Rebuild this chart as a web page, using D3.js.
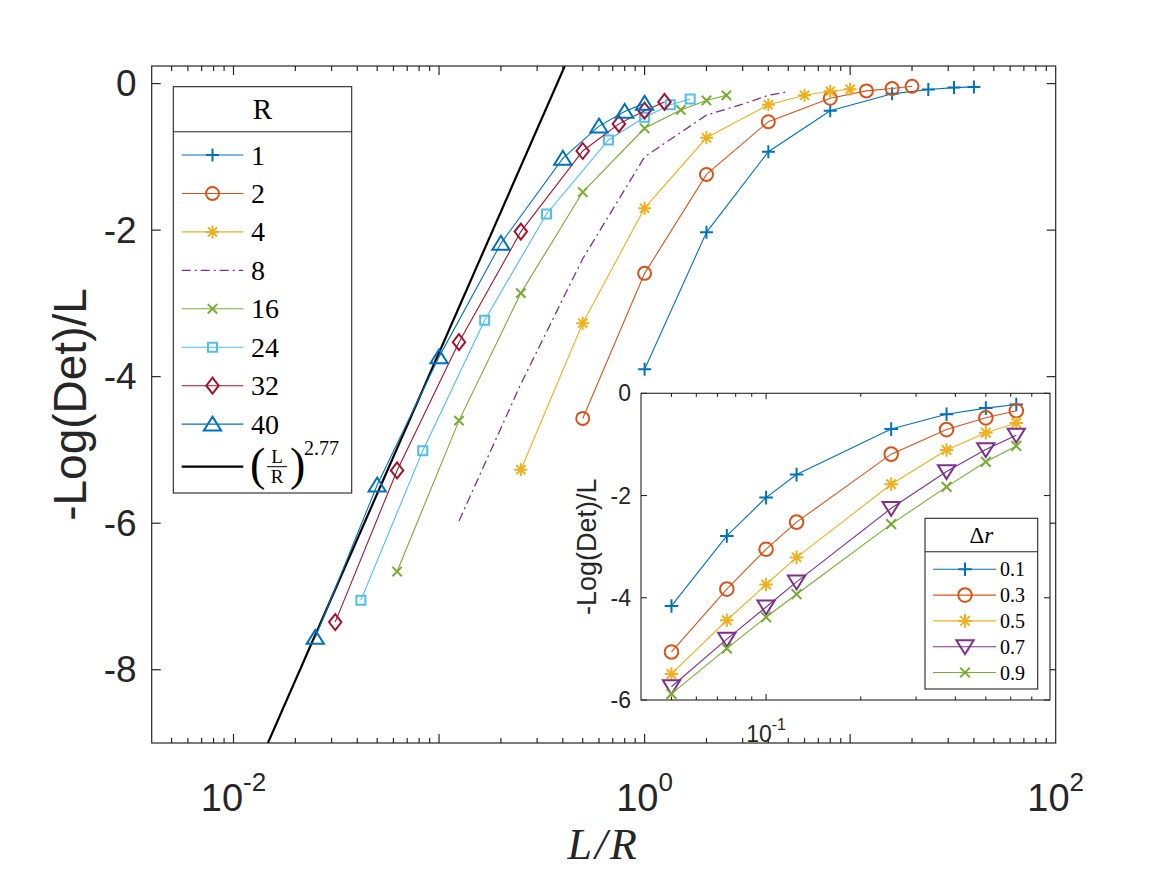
<!DOCTYPE html>
<html>
<head>
<meta charset="utf-8">
<script src="https://cdn.jsdelivr.net/npm/d3@7"></script>
<style>
  body { margin: 0; background: #fff; }
  svg { display: block; }
</style>
</head>
<body>
<div id="chart"></div>
<script>
// system sizes L and ranges R, x axis is L/R
var Lvals = [1, 2, 4, 8, 16, 24, 32, 40];
var Rvals = [1, 2, 4, 8, 16, 24, 32, 40];

// -Log(Det)/L, one array per R (index = L)
var detR1  = [-3.90, -2.03, -0.93, -0.37, -0.14, -0.08, -0.055, -0.045];
var detR2  = [-4.57, -2.59, -1.24, -0.52, -0.20, -0.10, -0.068, -0.037];
var detR4  = [-5.27, -3.27, -1.70, -0.74, -0.29, -0.16, -0.105, -0.078];
var detR8  = [-5.97, -4.10, -2.39, -1.00, -0.43, -0.28, -0.16, -0.11];
var detR16 = [-6.66, -4.60, -2.86, -1.48, -0.61, -0.36, -0.23, -0.16];
var detR24 = [-7.05, -5.01, -3.23, -1.78, -0.77, -0.46, -0.29, -0.21];
var detR32 = [-7.35, -5.28, -3.53, -2.02, -0.92, -0.55, -0.37, -0.25];
var detR40 = [-7.56, -5.48, -3.73, -2.18, -1.02, -0.58, -0.38, -0.27];

// (L/R)^2.77 guide line, two ends
var fitX = [0.0147, 0.409];
var fitY = [-9.0, 0.24];

// inset: -Log(Det)/L against L/R for several Delta r
var insetX = [0.05, 0.075, 0.1, 0.125, 0.25, 0.375, 0.5, 0.625];
var drLabels = ["0.1", "0.3", "0.5", "0.7", "0.9"];
var dr01 = [-4.16, -2.79, -2.04, -1.59, -0.70, -0.41, -0.29, -0.22];
var dr03 = [-5.06, -3.83, -3.05, -2.52, -1.19, -0.71, -0.48, -0.34];
var dr05 = [-5.49, -4.44, -3.74, -3.21, -1.78, -1.11, -0.77, -0.58];
var dr07 = [-5.74, -4.81, -4.18, -3.69, -2.25, -1.53, -1.10, -0.82];
var dr09 = [-5.88, -4.99, -4.38, -3.93, -2.56, -1.83, -1.34, -1.03];

var mainSeries = [detR1, detR2, detR4, detR8, detR16, detR24, detR32, detR40];
var insetSeries = [dr01, dr03, dr05, dr07, dr09];

// styles (matlab default order)
var mainColor  = ["#0072BD", "#D95319", "#EDB120", "#7E2F8E", "#77AC30", "#4DBEEE", "#A2142F", "#0072BD"];
var mainMarker = ["plus", "circle", "star", null, "x", "square", "diamond", "triUp"];
var mainSize   = [6.5, 6.5, 6.5, 0, 6.5, 7.5, 8, 7.5];
var insetColor  = ["#0072BD", "#D95319", "#EDB120", "#7E2F8E", "#77AC30"];
var insetMarker = ["plus", "circle", "star", "triDown", "x"];

var W = 1167, H = 875;
var axisCol = "#262626";
var sans = "'Liberation Sans', Arial, sans-serif";
var serif = "'Liberation Serif', 'Times New Roman', serif";

var svg = d3.select("#chart").append("svg")
    .attr("width", W)
    .attr("height", H)
    .style("background", "#fff");

function markerPath(type, s) {
  var a, b;
  switch (type) {
    case "plus": return "M" + (-s) + ",0H" + s + "M0," + (-s) + "V" + s;
    case "x": a = s * 0.72; return "M" + (-a) + "," + (-a) + "L" + a + "," + a + "M" + (-a) + "," + a + "L" + a + "," + (-a);
    case "star": b = s * 0.7; return "M" + (-s) + ",0H" + s + "M0," + (-s) + "V" + s +
        "M" + (-b) + "," + (-b) + "L" + b + "," + b + "M" + (-b) + "," + b + "L" + b + "," + (-b);
    case "circle": return "M" + s + ",0A" + s + "," + s + " 0 1,1 " + (-s) + ",0A" + s + "," + s + " 0 1,1 " + s + ",0Z";
    case "square": a = s * 0.6; return "M" + (-a) + "," + (-a) + "H" + a + "V" + a + "H" + (-a) + "Z";
    case "diamond": a = s * 0.78; return "M0," + (-s) + "L" + a + ",0L0," + s + "L" + (-a) + ",0Z";
    case "triUp": return "M0," + (-s) + "L" + (s * 1.15) + "," + (s * 0.85) + "L" + (-s * 1.15) + "," + (s * 0.85) + "Z";
    case "triDown": return "M0," + s + "L" + (s * 1.15) + "," + (-s * 0.85) + "L" + (-s * 1.15) + "," + (-s * 0.85) + "Z";
  }
  return "";
}

function drawMarker(g, type, cx, cy, color, s) {
  g.append("path")
    .attr("d", markerPath(type, s))
    .attr("transform", "translate(" + cx + "," + cy + ")")
    .attr("fill", "none")
    .attr("stroke", color)
    .attr("stroke-width", 2);
}

// ---------- main axes ----------
var mL = 151.7, mR = 1055.7, mT = 66, mB = 743;
var x = d3.scaleLog().domain([0.004, 100]).range([mL, mR]);
var y = d3.scaleLinear().domain([-9, 0.24]).range([mB, mT]);

svg.append("clipPath").attr("id", "clipMain")
  .append("rect").attr("x", mL).attr("y", mT).attr("width", mR - mL).attr("height", mB - mT);

var plot = svg.append("g").attr("clip-path", "url(#clipMain)");

// guide line
plot.append("line")
  .attr("x1", x(fitX[0])).attr("y1", y(fitY[0]))
  .attr("x2", x(fitX[1])).attr("y2", y(fitY[1]))
  .attr("stroke", "#000").attr("stroke-width", 2.2);

var line = d3.line().x(function(d) { return x(d[0]); }).y(function(d) { return y(d[1]); });

mainSeries.forEach(function(vals, i) {
  var R = Rvals[i];
  var pts = vals.map(function(v, j) { return [Lvals[j] / R, v]; });
  plot.append("path")
    .attr("d", line(pts))
    .attr("fill", "none")
    .attr("stroke", mainColor[i])
    .attr("stroke-width", mainMarker[i] ? 1.1 : 1.3)
    .attr("stroke-dasharray", mainMarker[i] ? null : "9,4,2,4");
  if (mainMarker[i]) {
    pts.forEach(function(p) {
      drawMarker(plot, mainMarker[i], x(p[0]), y(p[1]), mainColor[i], mainSize[i]);
    });
  }
});

// box + ticks
svg.append("rect")
  .attr("x", mL).attr("y", mT).attr("width", mR - mL).attr("height", mB - mT)
  .attr("fill", "none").attr("stroke", axisCol).attr("stroke-width", 1.2);

var yTicks = y.ticks(5);
yTicks.forEach(function(t) {
  svg.append("line").attr("x1", mL).attr("x2", mL + 9).attr("y1", y(t)).attr("y2", y(t))
    .attr("stroke", axisCol).attr("stroke-width", 1.2);
  svg.append("line").attr("x1", mR).attr("x2", mR - 9).attr("y1", y(t)).attr("y2", y(t))
    .attr("stroke", axisCol).attr("stroke-width", 1.2);
  svg.append("text")
    .attr("x", mL - 15).attr("y", y(t))
    .attr("text-anchor", "end").attr("dominant-baseline", "central")
    .style("font-family", sans).style("font-size", "37px").style("fill", axisCol)
    .text(d3.format("d")(t).replace("−", "-"));
});

x.ticks().forEach(function(t) {
  var lg = Math.log10(t);
  var major = Math.abs(lg - Math.round(lg)) < 1e-6;
  var len = major ? 9 : 5;
  if (x(t) <= mL + 0.5 || x(t) >= mR - 0.5) return;
  svg.append("line").attr("x1", x(t)).attr("x2", x(t)).attr("y1", mB).attr("y2", mB - len)
    .attr("stroke", axisCol).attr("stroke-width", 1.2);
  svg.append("line").attr("x1", x(t)).attr("x2", x(t)).attr("y1", mT).attr("y2", mT + len)
    .attr("stroke", axisCol).attr("stroke-width", 1.2);
});

// x tick labels 10^n
[0.01, 1, 100].forEach(function(t) {
  var txt = svg.append("text")
    .attr("x", x(t)).attr("y", 811)
    .attr("text-anchor", "middle")
    .style("font-family", sans).style("font-size", "38px").style("fill", axisCol);
  txt.append("tspan").text("10");
  txt.append("tspan").attr("dy", -20).style("font-size", "26px").text(String(Math.round(Math.log10(t))));
});

svg.append("text")
  .attr("transform", "translate(70," + ((mT + mB) / 2) + ") rotate(-90)")
  .attr("text-anchor", "middle").attr("dominant-baseline", "central")
  .style("font-family", sans).style("font-size", "46px").style("fill", axisCol)
  .text("-Log(Det)/L");

svg.append("text")
  .attr("x", (mL + mR) / 2).attr("y", 859)
  .attr("text-anchor", "middle")
  .style("font-family", serif).style("font-style", "italic").style("font-size", "44px")
  .style("letter-spacing", "3px").style("fill", axisCol)
  .text("L/R");

// ---------- main legend ----------
var lg = svg.append("g");
var lgL = 173.3, lgT = 86.7, lgW = 178.4, lgH = 406.3;
lg.append("rect").attr("x", lgL).attr("y", lgT).attr("width", lgW).attr("height", lgH)
  .attr("fill", "#fff").attr("stroke", axisCol).attr("stroke-width", 1.1);
lg.append("line").attr("x1", lgL).attr("x2", lgL + lgW).attr("y1", 131.7).attr("y2", 131.7)
  .attr("stroke", axisCol).attr("stroke-width", 1.1);
lg.append("text").attr("x", lgL + lgW / 2).attr("y", 119).attr("text-anchor", "middle")
  .style("font-family", serif).style("font-size", "29px").style("fill", "#000").text("R");

Rvals.forEach(function(R, i) {
  var ey = 155 + i * 38.45;
  lg.append("line").attr("x1", 181.7).attr("x2", 243.3).attr("y1", ey).attr("y2", ey)
    .attr("stroke", mainColor[i])
    .attr("stroke-width", mainMarker[i] ? 1.1 : 1.3)
    .attr("stroke-dasharray", mainMarker[i] ? null : "9,4,2,4");
  if (mainMarker[i]) drawMarker(lg, mainMarker[i], 212.5, ey, mainColor[i], mainSize[i]);
  lg.append("text").attr("x", 251).attr("y", ey + 9.5)
    .style("font-family", serif).style("font-size", "28px").style("fill", "#000").text(R);
});

// guide line entry: (L/R)^2.77
var fy = 466.7;
lg.append("line").attr("x1", 181.7).attr("x2", 243.3).attr("y1", fy).attr("y2", fy)
  .attr("stroke", "#000").attr("stroke-width", 2.2);
lg.append("text").attr("x", 250).attr("y", fy + 13)
  .style("font-family", serif).style("font-size", "46px").style("font-weight", "300").style("fill", "#000").text("(");
lg.append("text").attr("x", 277).attr("y", fy - 4).attr("text-anchor", "middle")
  .style("font-family", serif).style("font-size", "19px").style("fill", "#000").text("L");
lg.append("line").attr("x1", 267).attr("x2", 287).attr("y1", fy).attr("y2", fy)
  .attr("stroke", "#000").attr("stroke-width", 1);
lg.append("text").attr("x", 277).attr("y", fy + 16).attr("text-anchor", "middle")
  .style("font-family", serif).style("font-size", "19px").style("fill", "#000").text("R");
lg.append("text").attr("x", 290).attr("y", fy + 13)
  .style("font-family", serif).style("font-size", "46px").style("font-weight", "300").style("fill", "#000").text(")");
lg.append("text").attr("x", 304).attr("y", fy - 12)
  .style("font-family", serif).style("font-size", "20px").style("fill", "#000").text("2.77");

// ---------- inset ----------
var iL = 641, iR = 1050, iT = 393.3, iB = 700;
var xi = d3.scaleLog().domain([0.04, 0.8]).range([iL, iR]);
var yi = d3.scaleLinear().domain([-6, 0]).range([iB, iT]);

svg.append("rect").attr("x", iL).attr("y", iT).attr("width", iR - iL).attr("height", iB - iT)
  .attr("fill", "#fff");

var lineI = d3.line().x(function(d) { return xi(d[0]); }).y(function(d) { return yi(d[1]); });
var inset = svg.append("g");
insetSeries.forEach(function(vals, i) {
  var pts = vals.map(function(v, j) { return [insetX[j], v]; });
  inset.append("path").attr("d", lineI(pts)).attr("fill", "none")
    .attr("stroke", insetColor[i]).attr("stroke-width", 1.1);
  pts.forEach(function(p) {
    drawMarker(inset, insetMarker[i], xi(p[0]), yi(p[1]), insetColor[i], insetMarker[i] == "triDown" ? 7.5 : 6.8);
  });
});

svg.append("rect").attr("x", iL).attr("y", iT).attr("width", iR - iL).attr("height", iB - iT)
  .attr("fill", "none").attr("stroke", axisCol).attr("stroke-width", 1.1);

yi.ticks(4).forEach(function(t) {
  svg.append("line").attr("x1", iL).attr("x2", iL + 6).attr("y1", yi(t)).attr("y2", yi(t))
    .attr("stroke", axisCol).attr("stroke-width", 1.1);
  svg.append("line").attr("x1", iR).attr("x2", iR - 6).attr("y1", yi(t)).attr("y2", yi(t))
    .attr("stroke", axisCol).attr("stroke-width", 1.1);
  svg.append("text").attr("x", iL - 10).attr("y", yi(t))
    .attr("text-anchor", "end").attr("dominant-baseline", "central")
    .style("font-family", sans).style("font-size", "23px").style("fill", axisCol)
    .text(d3.format("d")(t).replace("−", "-"));
});

xi.ticks().forEach(function(t) {
  var lgt = Math.log10(t);
  var major = Math.abs(lgt - Math.round(lgt)) < 1e-6;
  var len = major ? 6 : 3.5;
  if (xi(t) <= iL + 0.5 || xi(t) >= iR - 0.5) return;
  svg.append("line").attr("x1", xi(t)).attr("x2", xi(t)).attr("y1", iB).attr("y2", iB - len)
    .attr("stroke", axisCol).attr("stroke-width", 1.1);
  svg.append("line").attr("x1", xi(t)).attr("x2", xi(t)).attr("y1", iT).attr("y2", iT + len)
    .attr("stroke", axisCol).attr("stroke-width", 1.1);
});

var it = svg.append("text").attr("x", xi(0.1)).attr("y", 742).attr("text-anchor", "middle")
  .style("font-family", sans).style("font-size", "23px").style("fill", axisCol);
it.append("tspan").text("10");
it.append("tspan").attr("dy", -12).style("font-size", "16px").text("-1");

svg.append("text")
  .attr("transform", "translate(587," + ((iT + iB) / 2) + ") rotate(-90)")
  .attr("text-anchor", "middle").attr("dominant-baseline", "central")
  .style("font-family", sans).style("font-size", "27px").style("fill", axisCol)
  .text("-Log(Det)/L");

// inset legend
var il = svg.append("g");
var ilL = 925, ilT = 518.3, ilW = 112.7, ilH = 170.7;
il.append("rect").attr("x", ilL).attr("y", ilT).attr("width", ilW).attr("height", ilH)
  .attr("fill", "#fff").attr("stroke", axisCol).attr("stroke-width", 1.1);
il.append("line").attr("x1", ilL).attr("x2", ilL + ilW).attr("y1", 551.7).attr("y2", 551.7)
  .attr("stroke", axisCol).attr("stroke-width", 1.1);
var ttl = il.append("text").attr("x", ilL + ilW / 2).attr("y", 543).attr("text-anchor", "middle")
  .style("font-family", serif).style("font-size", "23px").style("fill", "#000");
ttl.append("tspan").text("Δ");
ttl.append("tspan").style("font-style", "italic").text("r");

drLabels.forEach(function(lab, i) {
  var ey = 569.3 + i * 25.8;
  il.append("line").attr("x1", 933).attr("x2", 996).attr("y1", ey).attr("y2", ey)
    .attr("stroke", insetColor[i]).attr("stroke-width", 1.1);
  drawMarker(il, insetMarker[i], 965, ey, insetColor[i], insetMarker[i] == "triDown" ? 7.5 : 6.8);
  il.append("text").attr("x", 1000).attr("y", ey + 7)
    .style("font-family", serif).style("font-size", "20px").style("fill", "#000").text(lab);
});
</script>
</body>
</html>
